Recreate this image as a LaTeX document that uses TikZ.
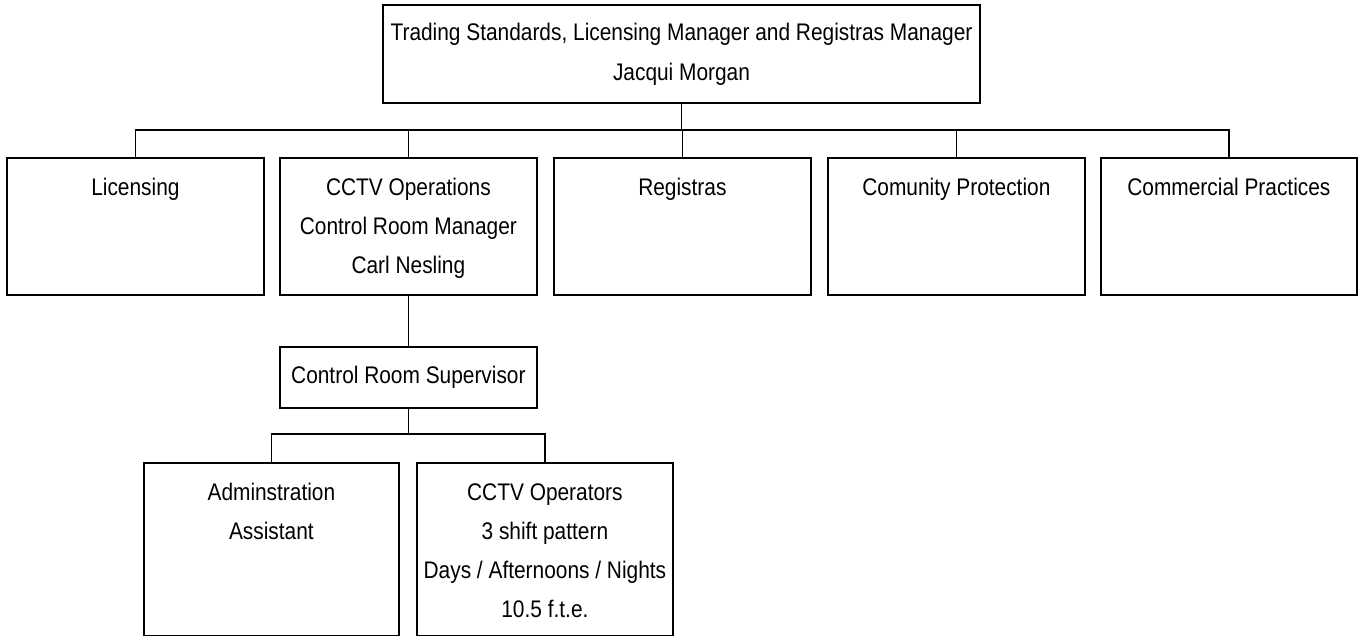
\documentclass[tikz,border=0pt]{standalone}
\usepackage{fontspec}
\setmainfont{Liberation Sans}[FakeStretch=0.87]
\newcommand{\orgtext}[3]{\parbox[t][#2][t]{#1}{\centering\fontsize{24}{39}\selectfont\rule{0pt}{38pt}#3}}
\tikzset{
  orgbox/.style={draw, line width=1.8pt, inner sep=0pt, anchor=north west},
  ctrbox/.style={draw, line width=1.8pt, inner sep=0pt, align=center, font=\fontsize{24}{40}\selectfont},
  conn/.style={line width=1.3pt},
}
\begin{document}
\begin{tikzpicture}[x=1pt,y=-1pt]
\useasboundingbox (0,0) rectangle (1362,636);
% top
\node[ctrbox, minimum width=597pt, minimum height=98pt] (top) at (681.5,54)
  {Trading Standards, Licensing Manager and Registras Manager\\Jacqui Morgan};
% second row
\node[orgbox] (lic) at (6,157) {\orgtext{257pt}{137pt}{Licensing}};
\node[orgbox] (cctv) at (279,157) {\orgtext{257pt}{137pt}{CCTV Operations\\Control Room Manager\\Carl Nesling}};
\node[orgbox] (reg) at (553,157) {\orgtext{257pt}{137pt}{Registras}};
\node[orgbox] (com) at (827,157) {\orgtext{257pt}{137pt}{Comunity Protection}};
\node[orgbox] (cp) at (1100,157) {\orgtext{256pt}{137pt}{Commercial Practices}};
% supervisor
\coordinate (suppos) at (0,377.5);
\node[ctrbox, minimum width=257pt, minimum height=61pt] (sup) at (cctv.south |- suppos) {Control Room Supervisor};
% bottom row
\node[orgbox] (adm) at (143,462) {\orgtext{255pt}{173pt}{Adminstration\\Assistant}};
\node[orgbox] (ops) at (416,462) {\orgtext{256pt}{173pt}{CCTV Operators\\3 shift pattern\\Days / Afternoons / Nights\\10.5 f.t.e.}};
% connectors
\coordinate (bus) at (681.5,130);
\coordinate (bus2) at (407.5,434);
\foreach \n in {lic,cctv,reg,com,cp}
  \draw[conn] (top.south) -- (top.south |- bus) -| (\n.north);
\draw[conn] (cctv.south) -- (sup.north);
\foreach \n in {adm,ops}
  \draw[conn] (sup.south) -- (sup.south |- bus2) -| (\n.north);
\end{tikzpicture}
\end{document}
